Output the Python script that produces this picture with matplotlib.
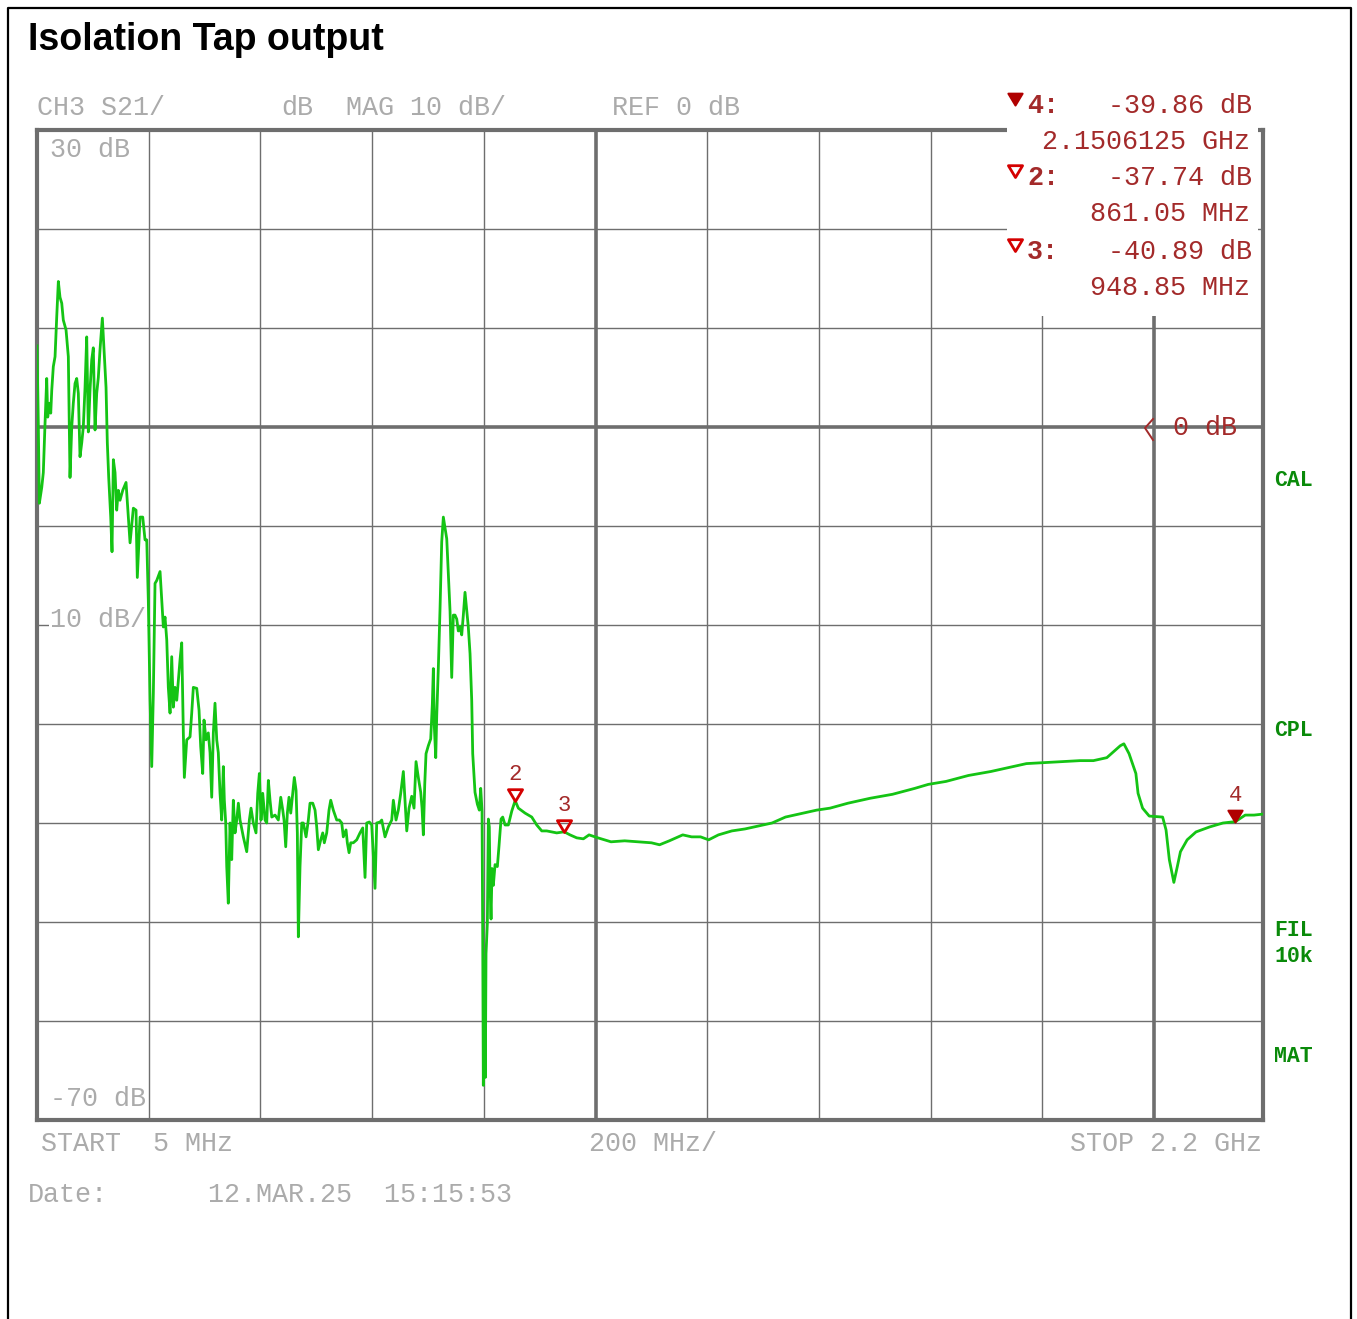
#!/usr/bin/env python3

import matplotlib
matplotlib.use("Agg")
import matplotlib.pyplot as plt
from matplotlib.patches import Rectangle
from matplotlib.path import Path as MPath

W, H = 1357, 1319

# trace (MHz, dB)
freq_mhz = [
    5.0, 7.4, 9.2, 13.5, 16.3, 19.4, 22.4, 24.2, 27.1, 29.6, 31.4, 34.2, 37.3,
    40.3, 43.2, 46.2, 49.3, 52.1, 57.0, 61.1, 64.1, 67.2, 70.0, 73.1, 76.1,
    79.0, 82.0, 85.1, 87.9, 91.0, 94.0, 96.9, 99.9, 103.0, 105.8, 108.9, 111.9,
    114.8, 117.8, 122.0, 125.0, 128.6, 130.9, 133.4, 137.0, 139.3, 141.7,
    144.7, 147.7, 150.6, 153.6, 158.5, 164.4, 167.4, 171.6, 177.5, 182.3,
    184.6, 189.5, 194.3, 198.4, 201.5, 204.3, 207.4, 210.4, 213.3, 216.3,
    219.4, 225.3, 228.3, 231.2, 234.2, 237.3, 240.1, 243.2, 246.2, 249.1,
    252.1, 255.2, 261.1, 264.1, 267.0, 268.8, 273.1, 279.0, 282.0, 284.9,
    291.0, 295.1, 298.1, 301.7, 304.0, 307.6, 311.7, 314.8, 317.8, 320.7,
    323.7, 326.8, 329.6, 332.7, 335.7, 338.6, 340.4, 342.9, 344.7, 347.5,
    350.6, 353.6, 356.5, 359.5, 362.6, 365.5, 368.5, 374.4, 380.5, 385.2,
    388.2, 392.3, 397.1, 400.2, 403.1, 406.1, 409.1, 413.3, 416.3, 419.2,
    422.2, 425.3, 431.2, 437.1, 441.4, 445.0, 447.3, 450.3, 453.2, 456.2,
    459.3, 462.1, 465.7, 468.8, 471.1, 472.9, 475.9, 479.0, 481.8, 486.7,
    490.8, 493.8, 498.7, 502.8, 505.8, 508.7, 513.0, 516.6, 519.4, 523.7,
    527.8, 530.9, 535.5, 541.6, 546.3, 550.6, 553.4, 558.3, 560.6, 563.7,
    566.7, 571.3, 577.4, 583.3, 588.2, 592.3, 595.3, 600.0, 604.3, 610.2,
    613.2, 619.2, 622.2, 628.1, 634.0, 640.1, 643.0, 647.8, 651.9, 656.2,
    660.9, 663.9, 667.0, 671.1, 675.9, 680.0, 683.6, 687.7, 692.0, 694.4,
    696.7, 699.2, 701.5, 705.6, 709.9, 712.8, 714.6, 716.4, 718.9, 720.7,
    723.5, 726.6, 729.6, 732.5, 738.6, 744.5, 747.5, 750.4, 753.4, 756.5,
    759.3, 762.4, 765.4, 768.3, 771.3, 774.4, 777.2, 780.3, 783.3, 785.1,
    789.2, 793.4, 796.9, 799.4, 801.8, 803.0, 804.1, 805.9, 807.7, 808.9,
    811.3, 813.1, 814.8, 816.1, 817.9, 819.7, 822.0, 825.1, 829.2, 832.2,
    835.8, 838.8, 843.0, 848.9, 855.0, 861.05, 866.8, 878.8, 890.8, 899.7,
    908.7, 917.6, 926.6, 935.5, 948.85, 959.3, 971.3, 983.2, 993.4, 1009.3,
    1032.7, 1057.1, 1081.1, 1105.1, 1119.6, 1137.1, 1161.1, 1177.1, 1193.0,
    1207.5, 1225.0, 1249.0, 1272.6, 1297.0, 1321.0, 1345.0, 1376.9, 1400.8,
    1424.8, 1456.9, 1496.8, 1536.7, 1576.7, 1600.7, 1632.5, 1672.6, 1712.6,
    1752.5, 1776.5, 1808.5, 1840.2, 1872.4, 1896.4, 1920.4, 1932.4, 1944.4,
    1950.9, 1960.2, 1972.4, 1976.3, 1984.4, 1996.3, 2020.3, 2026.4, 2032.3,
    2040.4, 2046.6, 2052.2, 2064.2, 2080.1, 2104.3, 2128.3, 2150.6, 2168.2,
    2184.0, 2200.0,
]
level_db = [
    8.2, 0.0, -7.7, -6.1, -4.6, 0.4, 4.9, 1.0, 2.4, 1.4, 3.7, 6.1, 7.1,
    11.1, 14.7, 13.1, 12.5, 10.8, 9.8, 7.1, -5.1, 0.0, 2.4, 4.4, 4.9,
    3.4, -3.0, -1.6, 0.0, 4.0, 9.1, -0.5, 3.7, 6.8, 8.0, -0.3, 3.4,
    5.0, 7.8, 11.0, 7.8, 4.0, -1.6, -5.1, -9.1, -12.6, -3.3,
    -4.6, -8.4, -6.4, -7.4, -6.4, -5.6, -8.1, -11.7, -8.2, -8.4,
    -15.2, -9.1, -9.1, -11.4, -11.4, -17.5, -27.6, -34.3, -26.9, -15.8,
    -15.5, -14.6, -17.5, -20.2, -19.2, -21.5, -26.3, -28.9, -23.2, -28.3,
    -26.3, -27.6, -23.5, -21.8, -30.9, -35.4, -31.6, -31.3, -28.9, -26.3,
    -26.4, -28.6, -32.3, -35.0, -29.6, -31.6, -30.9, -32.9, -37.4, -30.9,
    -27.9, -31.6, -32.9, -37.0, -39.7, -34.3, -37.7, -40.0, -44.4, -48.1,
    -40.0, -43.7, -37.7, -41.0, -39.7, -38.0, -39.7, -41.4, -42.9, -39.7,
    -38.5, -40.0, -41.0, -37.0, -35.0, -39.7, -37.0, -39.7, -40.0, -35.7,
    -37.7, -39.4, -39.2, -39.7, -37.4, -38.7, -39.7, -42.4, -39.0, -37.4,
    -39.0, -37.4, -35.4, -36.7, -41.0, -51.5, -44.4, -40.0, -40.0, -41.4,
    -39.7, -38.0, -38.0, -38.7, -40.4, -42.7, -41.7, -41.0, -42.0, -41.0,
    -38.7, -37.7, -38.7, -39.7, -39.7, -40.0, -41.4, -40.7, -42.0, -43.0,
    -42.0, -42.0, -41.7, -41.0, -40.5, -45.5, -40.0, -39.9, -40.2, -46.6,
    -40.0, -39.9, -39.7, -41.4, -40.4, -39.7, -37.7, -39.7, -38.7, -37.0,
    -34.8, -37.7, -40.8, -38.5, -37.3, -38.5, -33.8, -35.4, -36.9, -38.5,
    -41.2, -36.1, -33.0, -32.2, -31.5, -28.0, -24.4, -30.3, -33.4, -29.1,
    -24.4, -18.3, -11.6, -9.1, -11.3, -18.6, -25.3, -19.0, -19.0, -19.4,
    -20.6, -20.2, -21.0, -19.0, -16.7, -18.6, -20.2, -22.9, -27.6, -33.0,
    -36.9, -38.1, -38.7, -36.5, -38.8, -51.6, -66.5, -54.0, -65.7, -53.2,
    -50.1, -39.6, -40.4, -46.3, -49.7, -44.6, -46.3, -44.2, -44.4, -42.3,
    -39.6, -39.4, -40.2, -40.2, -38.8, -37.74, -38.5, -39.0, -39.4, -40.2,
    -40.8, -40.8, -40.9, -41.0, -40.89, -41.2, -41.5, -41.6, -41.2, -41.5,
    -41.9, -41.8, -41.9, -42.0, -42.2, -41.8, -41.2, -41.4, -41.4,
    -41.7, -41.2, -40.8, -40.6, -40.3, -40.0, -39.4, -39.0, -38.7,
    -38.5, -38.0, -37.5, -37.1, -36.5, -36.1, -35.8, -35.2, -34.8,
    -34.3, -34.0, -33.9, -33.8, -33.7, -33.7, -33.4, -32.8, -32.2,
    -32.0, -33.0, -35.0, -37.0, -38.5, -39.3, -39.4, -40.7, -43.7,
    -46.0, -44.4, -42.9, -41.7, -40.9, -40.4, -40.0, -39.86, -39.2,
    -39.2, -39.1,
]

marker_ids = [4, 2, 3]
marker_freq_mhz = [2150.6125, 861.05, 948.85]
marker_db = [-39.86, -37.74, -40.89]
active_marker = 4

f_start, f_stop, f_div = 5, 2200, 200
db_top, db_bottom, db_div = 30, -70, 10

side_labels = [("CAL", 480), ("CPL", 731), ("FIL", 931), ("10k", 956), ("MAT", 1057)]

GRAY = "#ababab"
GRID = "#6e6e6e"
DARKRED = "#a32a2a"
MRED = "#d40000"
GREEN = "#14c414"
MONO = "Liberation Mono"
FS = 19.3

fig = plt.figure(figsize=(W / 100, H / 100), dpi=100)
fig.patch.set_facecolor("white")

ax = fig.add_axes([37 / W, 1 - 1120 / H, 1226 / W, 990 / H])
ax.set_xlim(f_start, f_stop)
ax.set_ylim(db_bottom, db_top)
ax.set_xticks([])
ax.set_yticks([])
for sp in ax.spines.values():
    sp.set_color(GRID)
    sp.set_linewidth(3)

# graticule
k = 1
while f_start + k * f_div < f_stop:
    f = f_start + k * f_div
    ax.axvline(f, color=GRID, lw=2.6 if k in (5, 10) else 1.0, zorder=1)
    k += 1
for v in range(db_bottom + db_div, db_top, db_div):
    ax.axhline(v, color=GRID, lw=2.6 if v == 0 else 1.0, zorder=1)

# scale labels inside the graticule
lbl = dict(family=MONO, fontsize=FS, color=GRAY, va="center", ha="left",
           transform=ax.transAxes, zorder=2,
           bbox=dict(facecolor="white", edgecolor="none", pad=0.5))
ax.text(13 / 1226, 1 - 20 / 990, "30 dB", **lbl)
ax.text(13 / 1226, 1 - 490 / 990, "10 dB/", **lbl)
ax.text(13 / 1226, 1 - 969 / 990, "-70 dB", **lbl)

ax.plot(freq_mhz, level_db, color=GREEN, lw=2, zorder=3)

# down-pointing triangle, apex at the anchor point
tri = MPath([(-0.6, 1.0), (0.6, 1.0), (0.0, 0.0), (-0.6, 1.0)], closed=True)


def marker_style(mid):
    if mid == active_marker:
        return dict(marker=tri, ms=17, mfc="#b00000", mec="#b00000", mew=1.5)
    return dict(marker=tri, ms=17, mfc="none", mec=MRED, mew=2)


for mid, mf, md in zip(marker_ids, marker_freq_mhz, marker_db):
    ax.plot([mf], [md], ls="none", zorder=4, **marker_style(mid))
    ax.annotate(str(mid), (mf, md), xytext=(0, 19), textcoords="offset points",
                ha="center", va="center", family=MONO, fontsize=16,
                color=DARKRED, zorder=4)

# overlay in screen pixels for the instrument annotations
ov = fig.add_axes([0, 0, 1, 1], zorder=5)
ov.set_xlim(0, W)
ov.set_ylim(H, 0)
ov.axis("off")
ov.patch.set_alpha(0)

# outer frame
ov.plot([8, 8, 1351, 1351], [H, 8, 8, H], color="black", lw=1.6)

ov.text(28, 40, "Isolation Tap output", family="Liberation Sans",
        fontweight="bold", fontsize=27, va="center", ha="left")

hdr = dict(family=MONO, fontsize=FS, color=GRAY, va="center", ha="left")
ov.text(37, 108, "CH3 S21/", **hdr)
ov.text(281, 108, "dB", **hdr)
ov.text(346, 108, "MAG 10 dB/", **hdr)
ov.text(612, 108, "REF 0 dB", **hdr)
ov.text(41, 1144, "START  5 MHz", **hdr)
ov.text(589, 1144, f"{f_div} MHz/", **hdr)
ov.text(1262, 1144, f"STOP {f_stop / 1000:.1f} GHz", **{**hdr, "ha": "right"})
ov.text(28, 1195, "Date:", **hdr)
ov.text(208, 1195, "12.MAR.25  15:15:53", **hdr)

# marker readout box
ov.add_patch(Rectangle((1007, 86), 251, 230, facecolor="white",
                       edgecolor="none"))
rows = [106, 178, 252]
for mid, mf, md, y in zip(marker_ids, marker_freq_mhz, marker_db, rows):
    ov.plot([1014.5], [y - 1], ls="none", **marker_style(mid))
    ov.text(1027, y, f"{mid}:", family=MONO, fontsize=FS, color=DARKRED,
            va="center", ha="left", fontweight="bold")
    ov.text(1252, y, f"{md:.2f} dB", family=MONO, fontsize=FS,
            color=DARKRED, va="center", ha="right")
    ftxt = f"{mf / 1000:.7f} GHz" if mf >= 1000 else f"{mf:.2f} MHz"
    ov.text(1250, y + 36, ftxt, family=MONO, fontsize=FS, color=DARKRED,
            va="center", ha="right")

# reference level pointer
ov.plot([1153, 1145, 1153], [419, 428, 440], color=DARKRED, lw=1.4)
ov.text(1173, 428, "0 dB", family=MONO, fontsize=FS, color=DARKRED,
        va="center", ha="left")

for s, y in side_labels:
    ov.text(1274, y, s, family=MONO, fontsize=15.5, fontweight="bold",
            color="#0a8a0a", va="center", ha="left")

fig.savefig("out.png", dpi=100, facecolor="white")
